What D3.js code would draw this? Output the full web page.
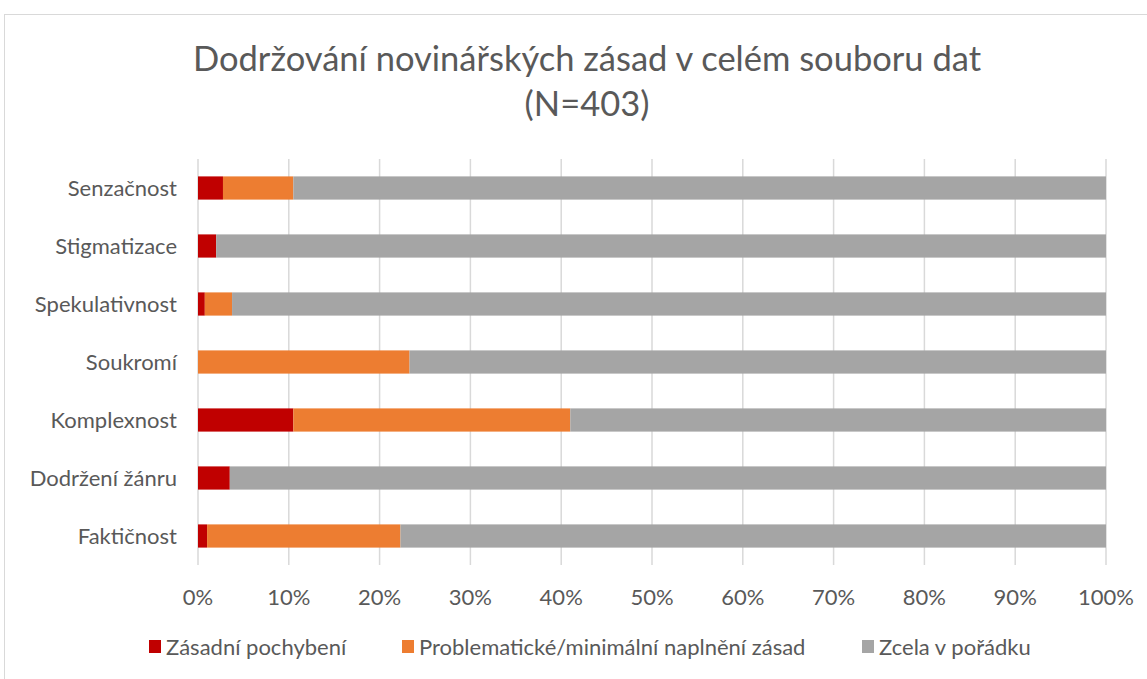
<!DOCTYPE html>
<html>
<head>
<meta charset="utf-8">
<script src="https://cdn.jsdelivr.net/npm/d3@7"></script>
<style>
  body { margin: 0; background: #fff; }
  svg { display: block; font-family: Lato, "Open Sans", sans-serif; }
</style>
</head>
<body>
<svg width="1147" height="679"></svg>
<script>
// categories, top to bottom
const categories = ["Senzačnost", "Stigmatizace", "Spekulativnost", "Soukromí", "Komplexnost", "Dodržení žánru", "Faktičnost"];
const seriesNames = ["Zásadní pochybení", "Problematické/minimální naplnění zásad", "Zcela v pořádku"];
const seriesColors = ["#c00000", "#ed7d31", "#a5a5a5"];
// values in %
const zasadni = [2.75, 2.0, 0.75, 0, 10.5, 3.5, 1.0];
const problematicke = [7.75, 0, 3.0, 23.3, 30.5, 0, 21.3];
const vPoradku = categories.map((c, i) => 100 - zasadni[i] - problematicke[i]);
const tickValues = [0, 10, 20, 30, 40, 50, 60, 70, 80, 90, 100];

const svg = d3.select("svg"),
    width = +svg.attr("width"),
    height = +svg.attr("height");

// chart border
svg.append("rect")
    .attr("x", 4.5).attr("y", 14.5)
    .attr("width", width + 10).attr("height", height + 10)
    .attr("fill", "none").attr("stroke", "#d9d9d9");

const plotLeft = 198, plotRight = 1106, plotTop = 159, plotBottom = 565;

const x = d3.scaleLinear().domain([0, 100]).range([plotLeft, plotRight]);
const y = d3.scaleBand().domain(categories).range([plotTop, plotBottom]).paddingInner(0.6).paddingOuter(0.3);

// title
svg.append("text")
    .attr("x", 587).attr("y", 71)
    .attr("text-anchor", "middle")
    .attr("font-size", 34.5).attr("fill", "#595959")
    .text("Dodržování novinářských zásad v celém souboru dat");
svg.append("text")
    .attr("x", 587).attr("y", 116)
    .attr("text-anchor", "middle")
    .attr("font-size", 34.5).attr("fill", "#595959")
    .text("(N=403)");

// gridlines
svg.append("g")
    .selectAll("line")
    .data(tickValues)
    .join("line")
    .attr("x1", d => x(d)).attr("x2", d => x(d))
    .attr("y1", plotTop).attr("y2", plotBottom)
    .attr("stroke", "#d9d9d9").attr("stroke-width", 1.5);

// stacked bars
const rows = categories.map((c, i) => ({ cat: c, s0: zasadni[i], s1: problematicke[i], s2: vPoradku[i] }));
const stack = d3.stack().keys(["s0", "s1", "s2"])(rows);

svg.append("g")
    .selectAll("g")
    .data(stack)
    .join("g")
    .attr("fill", (d, i) => seriesColors[i])
    .selectAll("rect")
    .data(d => d)
    .join("rect")
    .attr("x", d => x(d[0]))
    .attr("width", d => x(d[1]) - x(d[0]))
    .attr("y", d => y(d.data.cat))
    .attr("height", y.bandwidth());

// category labels
svg.append("g")
    .selectAll("text")
    .data(categories)
    .join("text")
    .attr("x", plotLeft - 21)
    .attr("y", d => y(d) + y.bandwidth() / 2)
    .attr("dy", "0.35em")
    .attr("text-anchor", "end")
    .attr("font-size", 22).attr("fill", "#595959")
    .text(d => d);

// x axis labels
svg.append("g")
    .selectAll("text")
    .data(tickValues)
    .join("text")
    .attr("x", d => x(d))
    .attr("y", 605)
    .attr("text-anchor", "middle")
    .attr("font-size", 22).attr("fill", "#595959")
    .text(d => d + "%");

// legend
const legendX = [149, 402, 862];
const legend = svg.append("g")
    .selectAll("g")
    .data(seriesNames)
    .join("g")
    .attr("transform", (d, i) => `translate(${legendX[i]},647)`);
legend.append("rect")
    .attr("x", 0).attr("y", -7)
    .attr("width", 12).attr("height", 13)
    .attr("fill", (d, i) => seriesColors[i]);
legend.append("text")
    .attr("x", 17).attr("dy", "0.35em")
    .attr("font-size", 22).attr("fill", "#595959")
    .text(d => d);
</script>
</body>
</html>
